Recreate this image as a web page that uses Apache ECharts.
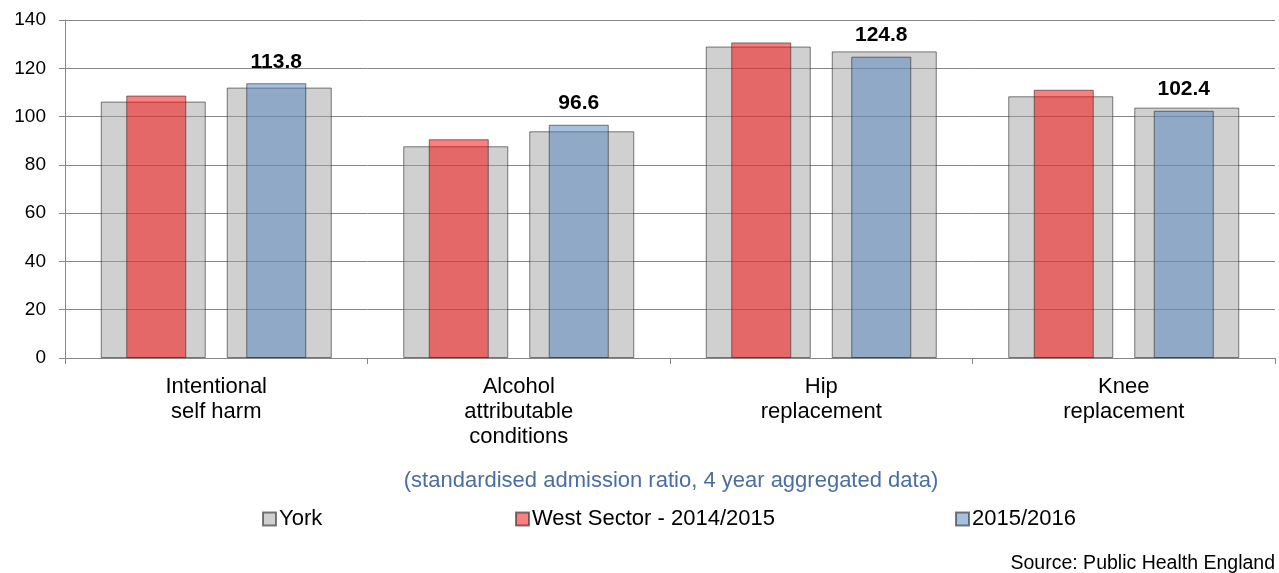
<!DOCTYPE html>
<html>
<head>
<meta charset="utf-8">
<script src="https://cdn.jsdelivr.net/npm/echarts@6/dist/echarts.min.js"></script>
<style>
  html, body { margin: 0; padding: 0; background: #fff; }
  #chart { width: 1279px; height: 573px; }
</style>
</head>
<body>
<div id="chart"></div>
<script>
// conditions shown on the x axis
const categories = [
  "Intentional\nself harm",
  "Alcohol\nattributable\nconditions",
  "Hip\nreplacement",
  "Knee\nreplacement"
];
// York comparator, behind each West Sector bar
const york1415 = [106.2, 87.7, 129.0, 108.4];
const york1516 = [112.0, 93.9, 127.0, 103.7];
// West Sector values
const west1415 = [108.7, 90.6, 130.7, 111.1];
const west1516 = [113.8, 96.6, 124.8, 102.4];
const yTicks = [0, 20, 40, 60, 80, 100, 120, 140];

const FONT = "Liberation Sans, Arial, sans-serif";
const GREY = "rgba(161,161,161,0.5)";
const RED = "rgba(250,0,0,0.5)";
const BLUE = "rgba(79,129,189,0.5)";
const EDGE = "rgba(40,40,40,0.6)";

const chart = echarts.init(document.getElementById("chart"), null, { renderer: "canvas" });

const legendBase = {
  top: 508,
  padding: 0,
  itemWidth: 13,
  itemHeight: 13,
  icon: "rect",
  textStyle: { fontFamily: FONT, fontSize: 22, color: "#000", padding: [0, 0, 0, -2] },
  selectedMode: false
};

chart.setOption({
  animation: false,
  backgroundColor: "#fff",
  grid: { left: 65, right: 4, top: 20, bottom: 215, containLabel: false },
  legend: [
    Object.assign({}, legendBase, { left: 262, data: ["York"] }),
    Object.assign({}, legendBase, { left: 515, data: ["West Sector - 2014/2015"] }),
    Object.assign({}, legendBase, { left: 955, data: ["2015/2016"] })
  ],
  graphic: [
    {
      type: "text",
      x: 671,
      y: 481,
      style: {
        text: "(standardised admission ratio, 4 year aggregated data)",
        fontFamily: FONT,
        fontSize: 22,
        fill: "#4a6ea4",
        textAlign: "center",
        textVerticalAlign: "middle"
      }
    },
    {
      type: "text",
      x: 1275,
      y: 564,
      style: {
        text: "Source: Public Health England",
        fontFamily: FONT,
        fontSize: 19.5,
        fill: "#000",
        textAlign: "right",
        textVerticalAlign: "middle"
      }
    }
  ],
  xAxis: [
    {
      type: "category",
      data: categories,
      axisLine: { lineStyle: { color: "#878787", width: 1 } },
      axisTick: { show: true, length: 6, lineStyle: { color: "#878787" } },
      axisLabel: {
        fontFamily: FONT,
        fontSize: 22,
        color: "#000",
        lineHeight: 25,
        margin: 16
      }
    },
    {
      type: "category",
      data: categories,
      show: false
    }
  ],
  yAxis: {
    type: "value",
    min: yTicks[0],
    max: yTicks[yTicks.length - 1],
    interval: 20,
    axisLine: { show: true, lineStyle: { color: "#878787", width: 1 } },
    axisTick: { show: true, length: 6, lineStyle: { color: "#878787" } },
    splitLine: { lineStyle: { color: "#878787", width: 1 } },
    axisLabel: { fontFamily: FONT, fontSize: 19, color: "#000", margin: 19 }
  },
  series: [
    {
      name: "York",
      type: "bar",
      xAxisIndex: 0,
      data: york1415,
      barWidth: 105,
      itemStyle: { color: GREY, borderColor: EDGE, borderWidth: 1 }
    },
    {
      name: "York",
      type: "bar",
      xAxisIndex: 0,
      data: york1516,
      barWidth: 105,
      barGap: "20%",
      itemStyle: { color: GREY, borderColor: EDGE, borderWidth: 1 }
    },
    {
      name: "West Sector - 2014/2015",
      type: "bar",
      xAxisIndex: 1,
      data: west1415,
      barWidth: 60,
      itemStyle: { color: RED, borderColor: EDGE, borderWidth: 1 }
    },
    {
      name: "2015/2016",
      type: "bar",
      xAxisIndex: 1,
      data: west1516,
      barWidth: 60,
      barGap: "100%",
      itemStyle: { color: BLUE, borderColor: EDGE, borderWidth: 1 },
      label: {
        show: true,
        position: "top",
        distance: 11,
        fontFamily: FONT,
        fontSize: 21,
        fontWeight: "bold",
        color: "#000"
      }
    }
  ]
});
</script>
</body>
</html>
